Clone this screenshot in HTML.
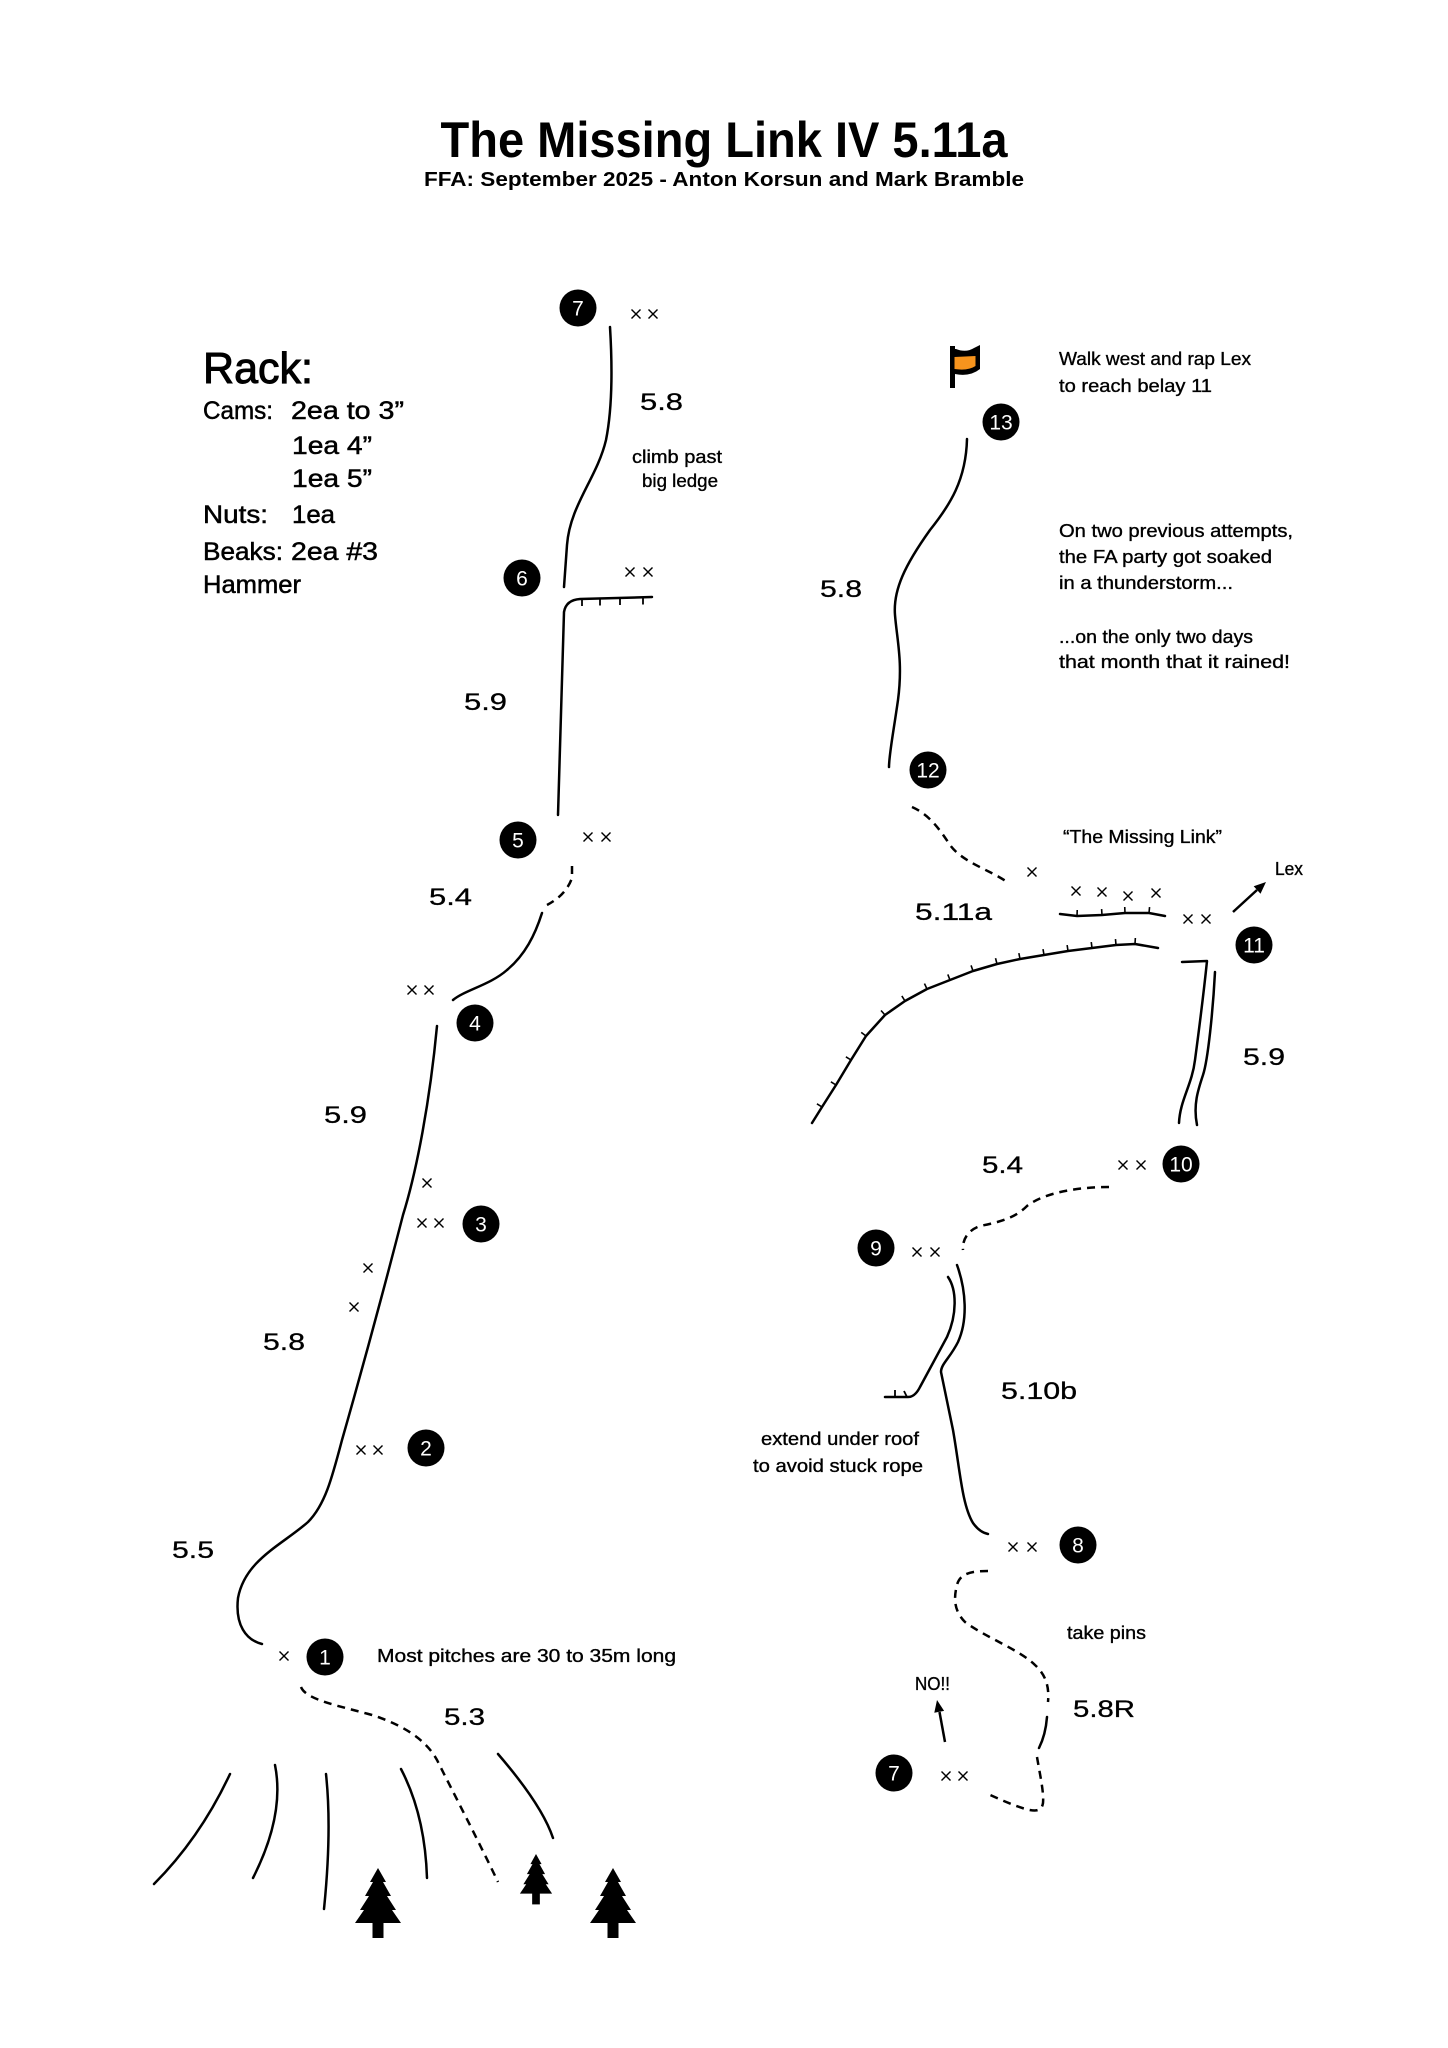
<!DOCTYPE html>
<html>
<head>
<meta charset="utf-8">
<style>
html,body{margin:0;padding:0;background:#fff;}
svg{display:block;}
text{font-family:"Liberation Sans",sans-serif;fill:#000;}
.g{font-size:24px;stroke:#000;stroke-width:0.3;}
.n{font-size:18px;stroke:#000;stroke-width:0.35;}
.r{stroke:#000;stroke-width:0.5;}
.b{font-size:21px;fill:#fff;text-anchor:middle;}
.ln{fill:none;stroke:#000;stroke-width:2.5;stroke-linecap:round;}
.ds{fill:none;stroke:#000;stroke-width:2.5;stroke-dasharray:8 6;}
.x{stroke:#000;stroke-width:1.4;}
</style>
</head>
<body>
<svg width="1448" height="2048" viewBox="0 0 1448 2048" xmlns="http://www.w3.org/2000/svg">
<defs>
<marker id="tk" markerUnits="userSpaceOnUse" markerWidth="20" markerHeight="20" refX="0" refY="0" orient="auto" style="overflow:visible">
<line x1="0" y1="0" x2="0" y2="-6" stroke="#000" stroke-width="1.6"/>
</marker>
<g id="xx">
<line x1="-4.5" y1="-4.5" x2="4.5" y2="4.5"/><line x1="-4.5" y1="4.5" x2="4.5" y2="-4.5"/>
</g>
<g id="tree">
<polygon points="0,0 8,14 5,14 13,28 9,28 18,42 14,42 23,55 -23,55 -14,42 -18,42 -9,28 -13,28 -5,14 -8,14"/>
<rect x="-5.5" y="54" width="11" height="16"/>
</g>
</defs>

<!-- Title -->
<text x="724" y="157" font-size="50" font-weight="bold" text-anchor="middle" textLength="567" lengthAdjust="spacingAndGlyphs">The Missing Link IV 5.11a</text>
<text x="724" y="186" font-size="20" font-weight="bold" text-anchor="middle" textLength="600" lengthAdjust="spacingAndGlyphs">FFA: September 2025 - Anton Korsun and Mark Bramble</text>

<!-- Rack -->
<text x="203" y="383" font-size="44" stroke="#000" stroke-width="1" textLength="110" lengthAdjust="spacingAndGlyphs">Rack:</text>
<text class="r" x="203" y="419" font-size="25" textLength="70" lengthAdjust="spacingAndGlyphs">Cams:</text>
<text class="r" x="291" y="419" font-size="25" textLength="113" lengthAdjust="spacingAndGlyphs">2ea to 3”</text>
<text class="r" x="292" y="454" font-size="25" textLength="80" lengthAdjust="spacingAndGlyphs">1ea 4”</text>
<text class="r" x="292" y="487" font-size="25" textLength="80" lengthAdjust="spacingAndGlyphs">1ea 5”</text>
<text class="r" x="203" y="523" font-size="25" textLength="65" lengthAdjust="spacingAndGlyphs">Nuts:</text>
<text class="r" x="292" y="523" font-size="25" textLength="43" lengthAdjust="spacingAndGlyphs">1ea</text>
<text class="r" x="203" y="560" font-size="25" textLength="80" lengthAdjust="spacingAndGlyphs">Beaks:</text>
<text class="r" x="291" y="560" font-size="25" textLength="87" lengthAdjust="spacingAndGlyphs">2ea #3</text>
<text class="r" x="203" y="593" font-size="25" textLength="98" lengthAdjust="spacingAndGlyphs">Hammer</text>

<!-- LEFT ROUTE LINES -->
<path class="ln" d="M610,327 C612,360 613,405 606,440 C597,478 570,505 567,545 L564,587"/>
<path class="ln" d="M558,815 L564,612 Q566,600 580,599 L652,597"/>
<g stroke="#000" stroke-width="1.8">
<line x1="582" y1="599" x2="582" y2="606"/>
<line x1="600" y1="598.5" x2="600" y2="605.5"/>
<line x1="620" y1="598" x2="620" y2="605"/>
<line x1="643" y1="597.5" x2="643" y2="604.5"/>
</g>
<path class="ds" d="M572,866 L572,878 Q566,895 547,905"/>
<path class="ln" d="M542,913 C535,935 525,955 507,970 C490,985 465,990 453,1000"/>
<path class="ln" d="M437,1026 C430,1100 417,1170 403,1215 C385,1285 362,1370 342,1440 C332,1478 325,1505 308,1522 C282,1545 245,1560 238,1598 C235,1625 246,1640 262,1644"/>
<path class="ds" d="M301,1687 C306,1700 340,1706 372,1715 C400,1724 425,1738 437,1760 C452,1790 478,1840 498,1882"/>

<!-- gully lines -->
<path class="ln" d="M230,1774 Q200,1838 154,1884"/>
<path class="ln" d="M275,1765 Q285,1815 253,1878"/>
<path class="ln" d="M326,1774 Q332,1830 324,1909"/>
<path class="ln" d="M401,1769 Q425,1815 427,1878"/>
<path class="ln" d="M498,1754 Q542,1805 553,1838"/>

<!-- trees -->
<use href="#tree" transform="translate(378,1868)"/>
<use href="#tree" transform="translate(536,1854) scale(0.7,0.72)"/>
<use href="#tree" transform="translate(613,1868)"/>

<!-- RIGHT ROUTE LINES -->
<path class="ln" d="M967,439 C966,480 950,505 930,530 C905,565 893,590 895,615 C897,640 903,662 898,700 C893,735 889,755 889,767"/>
<path class="ds" d="M912,807 C930,815 940,830 950,845 C962,862 990,870 1007,882"/>
<!-- small roof -->
<polyline fill="none" stroke="#000" stroke-width="2.5" stroke-linecap="round" points="1060,914 1077,916 1102,915 1125,913 1149,913 1165,916" marker-mid="url(#tk)"/>
<!-- big roof -->
<polyline fill="none" stroke="#000" stroke-width="2.5" stroke-linecap="round" stroke-linejoin="round" points="812,1123 822,1107 836,1085 851,1060 866,1036 885,1015 905,1001 927,989 950,980 973,971 997,964 1020,959 1044,955 1068,951 1092,948 1116,945 1135,944 1158,948" marker-mid="url(#tk)"/>
<!-- double line 11-10 -->
<path class="ln" stroke-linejoin="round" d="M1182,962 L1207,961 C1204,990 1199,1030 1195,1060 C1192,1085 1180,1100 1179,1123"/>
<path class="ln" d="M1215,972 C1213,1010 1208,1060 1203,1075 C1198,1090 1193,1105 1197,1125"/>
<!-- dashed 10-9 -->
<path class="ds" d="M1109,1187 C1080,1187 1045,1192 1027,1206 C1015,1218 1000,1222 980,1226 C968,1230 962,1240 963,1250"/>
<!-- double line 9-8 -->
<path class="ln" d="M957,1265 C966,1290 968,1320 958,1342 C950,1358 941,1364 941,1372 L953,1430 C960,1470 962,1505 973,1523 C978,1530 983,1533 988,1534"/>
<path class="ln" d="M948,1277 C957,1290 957,1315 947,1337 L920,1387 Q915,1397 908,1397 L885,1397"/>
<line x1="895" y1="1390" x2="895" y2="1397" stroke="#000" stroke-width="1.8"/>
<line x1="904" y1="1391" x2="907" y2="1397" stroke="#000" stroke-width="1.8"/>
<!-- dashed 8-7 -->
<path class="ds" d="M988,1571 C975,1571 960,1572 957,1585 C953,1600 955,1612 965,1622 C985,1637 1020,1650 1035,1665 C1048,1677 1049,1690 1048,1702"/>
<path class="ln" d="M1047,1717 C1046,1730 1043,1740 1039,1748"/>
<path class="ds" d="M1037,1757 C1040,1775 1044,1792 1043,1803 C1041,1815 1030,1813 988,1794"/>

<!-- arrows -->
<line x1="1233" y1="912" x2="1257" y2="890" stroke="#000" stroke-width="2.5"/>
<polygon points="1266,882 1260.5,893.7 1253.7,886.3"/>
<line x1="945" y1="1742" x2="939.5" y2="1712" stroke="#000" stroke-width="2.5"/>
<polygon points="937,1700 944.1,1710.9 934.3,1712.7"/>

<!-- flag -->
<rect x="950" y="346" width="5" height="42"/>
<path d="M950,349 L956,349 Q966,353 974,348 L980,345 L980,369 Q970,377 955,374 L950,374 Z"/>
<path d="M954.5,357 L975.5,356 L975.5,366 Q968,371 954.5,369 Z" fill="#F7941D"/>

<!-- X marks -->
<g class="x">
<use href="#xx" x="636" y="314"/><use href="#xx" x="653" y="314"/>
<use href="#xx" x="630" y="572"/><use href="#xx" x="648" y="572"/>
<use href="#xx" x="588" y="837"/><use href="#xx" x="606" y="837"/>
<use href="#xx" x="412" y="990"/><use href="#xx" x="429" y="990"/>
<use href="#xx" x="427" y="1183"/>
<use href="#xx" x="422" y="1223"/><use href="#xx" x="439" y="1223"/>
<use href="#xx" x="368" y="1268"/>
<use href="#xx" x="354" y="1307"/>
<use href="#xx" x="361" y="1450"/><use href="#xx" x="378" y="1450"/>
<use href="#xx" x="284" y="1656"/>
<use href="#xx" x="1032" y="872"/>
<use href="#xx" x="1076" y="891"/><use href="#xx" x="1102" y="892"/><use href="#xx" x="1128" y="896"/><use href="#xx" x="1156" y="893"/>
<use href="#xx" x="1188" y="919"/><use href="#xx" x="1206" y="919"/>
<use href="#xx" x="1123" y="1165"/><use href="#xx" x="1141" y="1165"/>
<use href="#xx" x="917" y="1252"/><use href="#xx" x="935" y="1252"/>
<use href="#xx" x="1013" y="1547"/><use href="#xx" x="1032" y="1547"/>
<use href="#xx" x="946" y="1776"/><use href="#xx" x="963" y="1776"/>
</g>

<!-- belays -->
<g>
<circle cx="578" cy="308" r="18.5"/><text class="b" x="578" y="315.5">7</text>
<circle cx="522" cy="578" r="18.5"/><text class="b" x="522" y="585.5">6</text>
<circle cx="518" cy="840" r="18.5"/><text class="b" x="518" y="847.5">5</text>
<circle cx="475" cy="1023" r="18.5"/><text class="b" x="475" y="1030.5">4</text>
<circle cx="481" cy="1224" r="18.5"/><text class="b" x="481" y="1231.5">3</text>
<circle cx="426" cy="1448" r="18.5"/><text class="b" x="426" y="1455.5">2</text>
<circle cx="325" cy="1657" r="18.5"/><text class="b" x="325" y="1664.5">1</text>
<circle cx="1001" cy="422" r="18.5"/><text class="b" x="1001" y="429.5">13</text>
<circle cx="928" cy="770" r="18.5"/><text class="b" x="928" y="777.5">12</text>
<circle cx="1254" cy="945" r="18.5"/><text class="b" x="1254" y="952.5">11</text>
<circle cx="1181" cy="1164" r="18.5"/><text class="b" x="1181" y="1171.5">10</text>
<circle cx="876" cy="1248" r="18.5"/><text class="b" x="876" y="1255.5">9</text>
<circle cx="1078" cy="1545" r="18.5"/><text class="b" x="1078" y="1552.5">8</text>
<circle cx="894" cy="1773" r="18.5"/><text class="b" x="894" y="1780.5">7</text>
</g>

<!-- grades -->
<text class="g" x="640" y="410" textLength="43" lengthAdjust="spacingAndGlyphs">5.8</text>
<text class="g" x="464" y="710" textLength="43" lengthAdjust="spacingAndGlyphs">5.9</text>
<text class="g" x="429" y="905" textLength="43" lengthAdjust="spacingAndGlyphs">5.4</text>
<text class="g" x="324" y="1123" textLength="43" lengthAdjust="spacingAndGlyphs">5.9</text>
<text class="g" x="263" y="1350" textLength="42" lengthAdjust="spacingAndGlyphs">5.8</text>
<text class="g" x="172" y="1558" textLength="42" lengthAdjust="spacingAndGlyphs">5.5</text>
<text class="g" x="444" y="1725" textLength="41" lengthAdjust="spacingAndGlyphs">5.3</text>
<text class="g" x="820" y="597" textLength="42" lengthAdjust="spacingAndGlyphs">5.8</text>
<text class="g" x="915" y="920" textLength="77" lengthAdjust="spacingAndGlyphs">5.11a</text>
<text class="g" x="1243" y="1065" textLength="42" lengthAdjust="spacingAndGlyphs">5.9</text>
<text class="g" x="982" y="1173" textLength="41" lengthAdjust="spacingAndGlyphs">5.4</text>
<text class="g" x="1001" y="1399" textLength="76" lengthAdjust="spacingAndGlyphs">5.10b</text>
<text class="g" x="1073" y="1717" textLength="62" lengthAdjust="spacingAndGlyphs">5.8R</text>

<!-- notes -->
<text class="n" x="632" y="463" textLength="90" lengthAdjust="spacingAndGlyphs">climb past</text>
<text class="n" x="642" y="487" textLength="76" lengthAdjust="spacingAndGlyphs">big ledge</text>
<text class="n" x="1059" y="365" textLength="192" lengthAdjust="spacingAndGlyphs">Walk west and rap Lex</text>
<text class="n" x="1059" y="392" textLength="153" lengthAdjust="spacingAndGlyphs">to reach belay 11</text>
<text class="n" x="1059" y="537" textLength="234" lengthAdjust="spacingAndGlyphs">On two previous attempts,</text>
<text class="n" x="1059" y="563" textLength="213" lengthAdjust="spacingAndGlyphs">the FA party got soaked</text>
<text class="n" x="1059" y="589" textLength="174" lengthAdjust="spacingAndGlyphs">in a thunderstorm...</text>
<text class="n" x="1059" y="643" textLength="194" lengthAdjust="spacingAndGlyphs">...on the only two days</text>
<text class="n" x="1059" y="668" textLength="231" lengthAdjust="spacingAndGlyphs">that month that it rained!</text>
<text class="n" x="1063" y="843" textLength="159" lengthAdjust="spacingAndGlyphs">“The Missing Link”</text>
<text class="n" x="1275" y="875" font-size="17" textLength="28" lengthAdjust="spacingAndGlyphs">Lex</text>
<text class="n" x="761" y="1445" textLength="158" lengthAdjust="spacingAndGlyphs">extend under roof</text>
<text class="n" x="753" y="1472" textLength="170" lengthAdjust="spacingAndGlyphs">to avoid stuck rope</text>
<text class="n" x="1067" y="1639" textLength="79" lengthAdjust="spacingAndGlyphs">take pins</text>
<text class="n" x="915" y="1690" font-size="17" textLength="35" lengthAdjust="spacingAndGlyphs">NO!!</text>
<text class="n" x="377" y="1662" textLength="299" lengthAdjust="spacingAndGlyphs">Most pitches are 30 to 35m long</text>
</svg>
</body>
</html>
